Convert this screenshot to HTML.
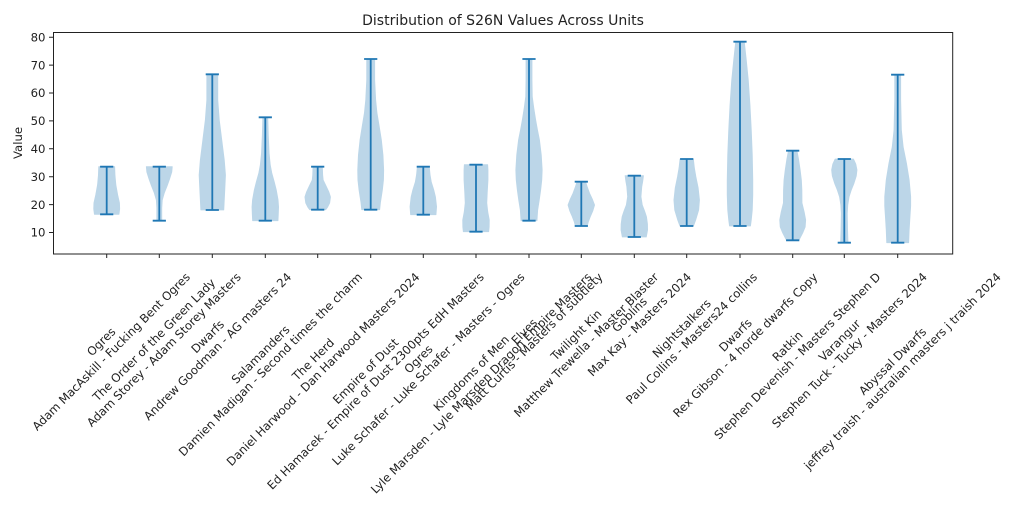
<!DOCTYPE html>
<html>
<head>
<meta charset="utf-8">
<style>
html,body{margin:0;padding:0;background:#fff;}
#wrap{position:relative;width:1024px;height:512px;overflow:hidden;background:#fff;font-family:"DejaVu Sans","Liberation Sans",sans-serif;color:#222;}
svg{position:absolute;left:0;top:0;}
.lb{position:absolute;top:260px;width:0;height:0;}
.lb>div{position:absolute;right:0;top:0;white-space:nowrap;text-align:center;font-size:11.7px;line-height:14px;color:#222;transform-origin:100% 0;transform:translateX(calc(35.36% - 9.9px)) rotate(-45deg);}
</style>
</head>
<body>
<div id="wrap">
<svg width="1024" height="512" viewBox="0 0 1024 512" xmlns="http://www.w3.org/2000/svg" font-family="DejaVu Sans, Liberation Sans, sans-serif">
<text x="503" y="25" font-size="14" text-anchor="middle" fill="#222">Distribution of S26N Values Across Units</text>
<g fill="#bcd6e8" stroke="#bcd6e8" stroke-width="0.8" stroke-linejoin="round">
<polygon points="114.7,166.7 115.0,175 115.9,185 117.7,195 119.5,203 119.7,209 119.0,214.3 94.4,214.3 93.7,209 93.9,203 95.7,195 97.5,185 98.4,175 98.7,166.7"/>
<polygon points="172.3,166.7 171.8,172 169.6,179 167.1,186 164.3,193 162.3,200 161.8,208 161.8,220.7 156.8,220.7 156.8,208 156.3,200 154.3,193 151.5,186 149.0,179 146.8,172 146.3,166.7"/>
<polygon points="217.8,74.3 217.8,100 219.3,120 221.8,140 224.3,160 225.5,175 224.8,190 223.8,210 200.8,210 199.8,190 199.1,175 200.3,160 202.8,140 205.3,120 206.8,100 206.8,74.3"/>
<polygon points="267.8,117.3 268.3,135 269.1,153 270.3,165 271.8,173 274.3,182 276.3,190 278.1,200 278.6,207 278.3,215 278.0,220.7 252.6,220.7 252.3,215 252.0,207 252.5,200 254.3,190 256.3,182 258.8,173 260.3,165 261.5,153 262.3,135 262.8,117.3"/>
<polygon points="322.4,166.7 322.7,175 323.2,180 326.4,186.7 328.9,192 330.5,197 329.7,203 327.7,207 325.7,209.7 309.7,209.7 307.7,207 305.7,203 304.9,197 306.5,192 309.0,186.7 312.2,180 312.7,175 313.0,166.7"/>
<polygon points="374.7,59 374.7,80 375.7,100 377.0,113 379.0,125 381.4,140 383.0,155 383.7,170 383.5,180 382.4,190 380.4,203 379.7,209.7 361.7,209.7 361.0,203 359.0,190 357.9,180 357.7,170 358.4,155 360.0,140 362.4,125 364.4,113 365.7,100 366.7,80 366.7,59"/>
<polygon points="429.3,166.7 430.1,175 431.3,182 433.8,190 435.5,197 436.6,206.7 436.0,214.7 410.6,214.7 410.0,206.7 411.1,197 412.8,190 415.3,182 416.5,175 417.3,166.7"/>
<polygon points="487.7,164.7 488.0,170 488.0,180 487.3,192 486.8,203 487.8,212 489.3,220 489.2,227 488.7,231.7 463.3,231.7 462.8,227 462.7,220 464.2,212 465.2,203 464.7,192 464.0,180 464.0,170 464.3,164.7"/>
<polygon points="532.0,59 532.0,80 532.3,96.7 533.8,108 535.7,120 537.5,130 539.5,140 541.3,155 542.2,170 541.8,180 540.7,190 539.3,200 537.7,210 537.0,220.7 521.0,220.7 520.3,210 518.7,200 517.3,190 516.2,180 515.8,170 516.7,155 518.5,140 520.5,130 522.3,120 524.2,108 525.7,96.7 526.0,80 526.0,59"/>
<polygon points="585.6,181.7 587.3,187 589.6,193.3 592.3,199 594.6,205 592.8,211 590.3,216.7 588.3,222 587.3,226 575.3,226 574.3,222 572.3,216.7 569.8,211 568.0,205 570.3,199 573.0,193.3 575.3,187 577.0,181.7"/>
<polygon points="643.5,175.7 642.8,181 641.8,186.7 641.0,196.7 642.3,205 644.6,211 646.5,216.7 647.5,224 647.6,230 646.3,237 622.3,237 621.0,230 621.1,224 622.1,216.7 624.0,211 626.3,205 627.6,196.7 626.8,186.7 625.8,181 625.1,175.7"/>
<polygon points="693.4,159 694.4,168 695.9,176.7 698.2,188 699.5,200 698.7,210 695.7,220 693.5,226 679.9,226 677.7,220 674.7,210 673.9,200 675.2,188 677.5,176.7 679.0,168 680.0,159"/>
<polygon points="744.3,41.7 746.3,60 748.3,80 750.0,105 751.3,130 752.3,155 752.8,180 752.8,195 752.3,210 751.3,220 750.5,226 729.5,226 728.7,220 727.7,210 727.2,195 727.2,180 727.7,155 728.7,130 730.0,105 731.7,80 733.7,60 735.7,41.7"/>
<polygon points="797.0,150.7 798.7,160 800.2,170 801.4,180 801.9,190 802.0,203 804.2,212 805.7,220 805.2,227 802.7,233 798.9,240.3 786.5,240.3 782.7,233 780.2,227 779.7,220 781.2,212 783.4,203 783.5,190 784.0,180 785.2,170 786.7,160 788.4,150.7"/>
<polygon points="853.5,159 855.8,164 857.0,170 856.3,176 854.0,183.3 851.3,190 849.1,196.7 847.8,205 847.3,213.3 847.6,230 848.0,242.7 840.6,242.7 841.0,230 841.3,213.3 840.8,205 839.5,196.7 837.3,190 834.6,183.3 832.3,176 831.6,170 832.8,164 835.1,159"/>
<polygon points="900.7,74.7 900.7,100 901.4,130 903.2,147 906.5,163.3 909.2,180 910.7,196.7 910.7,206 910.0,216.7 909.2,230 908.7,242.7 886.7,242.7 886.2,230 885.4,216.7 884.7,206 884.7,196.7 886.2,180 888.9,163.3 892.2,147 894.0,130 894.7,100 894.7,74.7"/>
</g>
<g stroke="#1f77b4" stroke-width="1.8" fill="none">
<path d="M106.7,166.7V214.3M100.1,166.7H113.3M100.1,214.3H113.3"/>
<path d="M159.3,166.7V220.7M152.7,166.7H165.9M152.7,220.7H165.9"/>
<path d="M212.3,74.3V210M205.7,74.3H218.9M205.7,210H218.9"/>
<path d="M265.3,117.3V220.7M258.7,117.3H271.9M258.7,220.7H271.9"/>
<path d="M317.7,166.7V209.7M311.1,166.7H324.3M311.1,209.7H324.3"/>
<path d="M370.7,59V209.7M364.1,59H377.3M364.1,209.7H377.3"/>
<path d="M423.3,166.7V214.7M416.7,166.7H429.9M416.7,214.7H429.9"/>
<path d="M476,164.7V231.7M469.4,164.7H482.6M469.4,231.7H482.6"/>
<path d="M529,59V220.7M522.4,59H535.6M522.4,220.7H535.6"/>
<path d="M581.3,181.7V226M574.7,181.7H587.9M574.7,226H587.9"/>
<path d="M634.3,175.7V237M627.7,175.7H640.9M627.7,237H640.9"/>
<path d="M686.7,159V226M680.1,159H693.3M680.1,226H693.3"/>
<path d="M740,41.7V226M733.4,41.7H746.6M733.4,226H746.6"/>
<path d="M792.7,150.7V240.3M786.1,150.7H799.3M786.1,240.3H799.3"/>
<path d="M844.3,159V242.7M837.7,159H850.9M837.7,242.7H850.9"/>
<path d="M897.7,74.7V242.7M891.1,74.7H904.3M891.1,242.7H904.3"/>
</g>
<rect x="53.5" y="32.5" width="899.2" height="221.5" fill="none" stroke="#222" stroke-width="1"/>
<g stroke="#222" stroke-width="1">
<path d="M53,232.5H49M53,204.6H49M53,176.7H49M53,148.8H49M53,120.9H49M53,93H49M53,65.1H49M53,37.2H49"/>
<path d="M106.7,254V258M159.3,254V258M212.3,254V258M265.3,254V258M317.7,254V258M370.7,254V258M423.3,254V258M476,254V258M529,254V258M581.3,254V258M634.3,254V258M686.7,254V258M740,254V258M792.7,254V258M844.3,254V258M897.7,254V258"/>
</g>
<g font-size="11.7" text-anchor="end" fill="#222">
<text x="45.5" y="236.7">10</text>
<text x="45.5" y="208.8">20</text>
<text x="45.5" y="180.9">30</text>
<text x="45.5" y="153">40</text>
<text x="45.5" y="125.1">50</text>
<text x="45.5" y="97.2">60</text>
<text x="45.5" y="69.3">70</text>
<text x="45.5" y="41.4">80</text>
</g>
<text transform="translate(22,143) rotate(-90)" font-size="11.7" text-anchor="middle" fill="#222">Value</text>
</svg>

<div class="lb" style="left:106.7px"><div>Ogres<br>Adam MacAskill - Fucking Bent Ogres</div></div>
<div class="lb" style="left:159.3px"><div>The Order of the Green Lady<br>Adam Storey - Adam Storey Masters</div></div>
<div class="lb" style="left:212.3px"><div>Dwarfs<br>Andrew Goodman - AG masters 24</div></div>
<div class="lb" style="left:265.3px"><div>Salamanders<br>Damien Madigan - Second times the charm</div></div>
<div class="lb" style="left:317.7px"><div>The Herd<br>Daniel Harwood - Dan Harwood Masters 2024</div></div>
<div class="lb" style="left:370.7px"><div>Empire of Dust<br>Ed Hamacek - Empire of Dust 2300pts EdH Masters</div></div>
<div class="lb" style="left:423.3px"><div>Ogres<br>Luke Schafer - Luke Schafer - Masters - Ogres</div></div>
<div class="lb" style="left:476px"><div>Kingdoms of Men<br>Lyle Marsden - Lyle Marsden Dragon Empire Masters</div></div>
<div class="lb" style="left:529px"><div>Elves<br>Matt Curtis - Masters of subtlety</div></div>
<div class="lb" style="left:581.3px"><div>Twilight Kin<br>Matthew Trewella - Master Blaster</div></div>
<div class="lb" style="left:634.3px"><div>Goblins<br>Max Kay - Masters 2024</div></div>
<div class="lb" style="left:686.7px"><div>Nightstalkers<br>Paul Collins - Masters24 collins</div></div>
<div class="lb" style="left:740px"><div>Dwarfs<br>Rex Gibson - 4 horde dwarfs Copy</div></div>
<div class="lb" style="left:792.7px"><div>Ratkin<br>Stephen Devenish - Masters Stephen D</div></div>
<div class="lb" style="left:844.3px"><div>Varangur<br>Stephen Tuck - Tucky - Masters 2024</div></div>
<div class="lb" style="left:897.7px"><div>Abyssal Dwarfs<br>jeffrey traish - australian masters j traish 2024</div></div>
</div>
</body>
</html>
